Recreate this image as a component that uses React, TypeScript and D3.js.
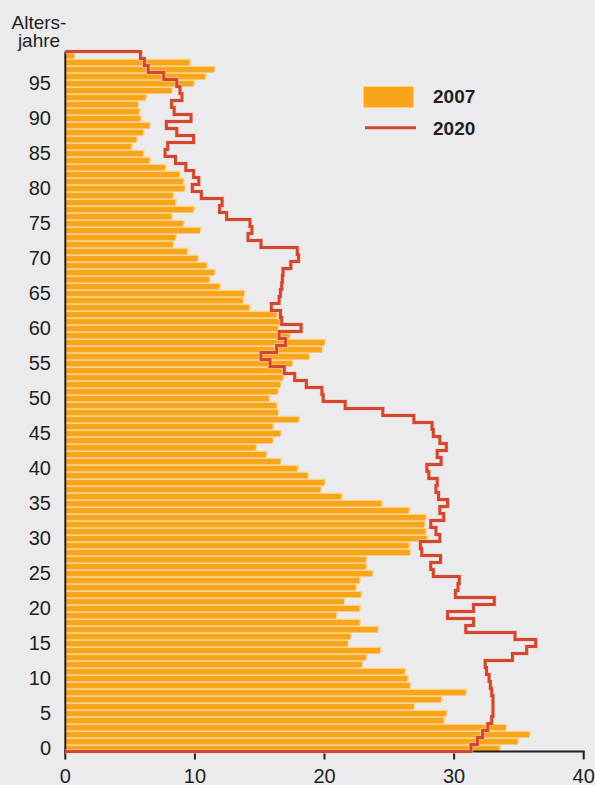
import React from 'react';
import * as d3 from 'd3';

// Altersjahre 0..99
const ages: number[] = d3.range(0, 100);

// 2007 – Balken (Anzahl je Altersjahr)
const values2007: number[] = [
  33.5, 34.9, 35.8, 34.0, 29.2, 29.4, 26.9, 29.0, 30.9, 26.6,
  26.4, 26.2, 22.9, 23.2, 24.3, 21.8, 22.0, 24.1, 22.7, 20.9,
  22.7, 21.5, 22.8, 22.4, 22.7, 23.7, 23.2, 23.2, 26.6, 26.5,
  27.9, 27.8, 27.7, 27.8, 26.5, 24.4, 21.3, 19.7, 20.0, 18.7,
  17.9, 16.6, 15.5, 14.7, 16.0, 16.6, 16.0, 18.0, 16.4, 16.3,
  15.7, 16.4, 16.6, 16.8, 16.9, 17.5, 18.8, 19.8, 20.0, 17.3,
  16.4, 16.6, 16.3, 14.2, 13.7, 13.8, 11.9, 11.1, 11.5, 10.9,
  10.2, 9.4, 8.3, 8.5, 10.4, 9.1, 8.2, 9.9, 8.5, 8.3,
  9.2, 9.1, 8.8, 7.7, 6.5, 6.0, 5.1, 5.5, 6.0, 6.5,
  5.8, 5.7, 5.6, 6.2, 8.2, 9.9, 10.8, 11.5, 9.6, 0.7,
];

// 2020 – Stufenlinie
const values2020: number[] = [
  31.3, 31.8, 32.2, 32.6, 32.9, 33.0, 33.0, 33.0, 32.9, 32.8,
  32.7, 32.5, 32.4, 34.5, 35.6, 36.3, 34.7, 30.9, 31.5, 29.5,
  31.5, 33.1, 30.1, 30.3, 30.4, 28.4, 28.2, 28.95, 27.5, 27.4,
  28.9, 28.6, 28.2, 29.2, 28.9, 29.5, 28.8, 28.6, 28.7, 28.05,
  27.9, 29.0, 28.7, 29.4, 28.9, 28.4, 28.3, 26.9, 24.5, 21.6,
  19.9, 19.8, 18.6, 17.7, 16.9, 15.8, 15.1, 16.3, 17.0, 16.5,
  18.2, 16.7, 16.6, 15.9, 16.5, 16.6, 16.7, 16.75, 16.8, 17.4,
  18.0, 17.9, 15.1, 14.1, 14.4, 14.25, 12.45, 11.9, 12.1, 10.5,
  9.8, 10.3, 9.9, 9.3, 8.5, 7.7, 7.9, 9.9, 8.6, 7.8,
  9.7, 8.4, 8.2, 9.0, 8.85, 8.6, 7.6, 6.4, 6.1, 5.8,
];

const xTicks: number[] = [0, 10, 20, 30, 40];
const yTickAges: number[] = ages.filter(a => a % 5 === 0);
const seriesLabels: string[] = ['2007', '2020'];

const W = 595;
const H = 785;
const BG = '#ebebed';
const ORANGE = '#f9a51b';
const PALE = '#fdd995';
const RED = '#d2472f';
const INK = '#231f20';
const FONT = '"Liberation Sans", Arial, Helvetica, sans-serif';

const App: React.FC = () => {
  const left = 65.3;
  const right = 583.7;
  const bottom = 751.5;
  const top = 51.5;

  const x = d3.scaleLinear().domain([0, 40]).range([left, right]);
  const y = d3.scaleBand<number>().domain(ages).range([bottom, top]).padding(0);
  const bw = y.bandwidth();

  // Stufenlinie als Umriss: von der Achse unten, um jedes Altersjahr, zurück zur Achse oben
  const pts: [number, number][] = [[0, bottom]];
  ages.forEach((a, i) => {
    const y0 = (y(a) as number) + bw;
    const y1 = y(a) as number;
    pts.push([values2020[i], y0]);
    pts.push([values2020[i], y1]);
  });
  pts.push([0, top]);
  const stepLine = d3.line<[number, number]>()
    .x(d => x(d[0]))
    .y(d => d[1]);
  const linePath = stepLine(pts) || '';

  const barH = 5.6;

  return (
    <div style={{ position: 'absolute', left: 0, top: 0 }}>
      <svg width={W} height={H} style={{ display: 'block', fontFamily: FONT }}>
        <rect x={0} y={0} width={W} height={H} fill={BG} />

        {/* Titel der Y-Achse */}
        <text x={39} y={28.8} textAnchor="middle" fontSize={19} fill={INK}>Alters-</text>
        <text x={39} y={47.2} textAnchor="middle" fontSize={19} fill={INK}>jahre</text>

        {/* Balken 2007 */}
        <g>
          {ages.map((a, i) => {
            const yb = (y(a) as number) + bw - barH;
            const w = x(values2007[i]) - x(0);
            return (
              <g key={a}>
                <rect x={x(0)} y={yb - 1.3} width={w + 1.6} height={barH} fill={PALE} />
                <rect x={x(0)} y={yb} width={w} height={barH} fill={ORANGE} />
              </g>
            );
          })}
        </g>

        {/* Achsen */}
        <line x1={left} x2={left} y1={top} y2={bottom} stroke={INK} strokeWidth={2} />
        <line x1={left - 1} x2={right + 1} y1={bottom} y2={bottom} stroke={INK} strokeWidth={2} />
        {xTicks.map(t => (
          <g key={t}>
            <line x1={x(t)} x2={x(t)} y1={bottom} y2={bottom + 8} stroke={INK} strokeWidth={2} />
            <text x={x(t)} y={782.5} textAnchor="middle" fontSize={20} fill={INK}>{t}</text>
          </g>
        ))}
        {yTickAges.map(a => (
          <text
            key={a}
            x={51}
            y={(y(a) as number) + bw / 2}
            dy="0.36em"
            textAnchor="end"
            fontSize={20}
            fill={INK}
          >
            {a}
          </text>
        ))}

        {/* Linie 2020 */}
        <path d={linePath} fill="none" stroke="#f3c9bd" strokeWidth={4.6} strokeLinejoin="miter" opacity={0.7} />
        <path d={linePath} fill="none" stroke={RED} strokeWidth={3} strokeLinejoin="miter" />

        {/* Legende */}
        <rect x={363} y={86} width={51} height={22} fill={ORANGE} stroke="#fff3dc" strokeWidth={1} />
        <text x={433} y={103} fontSize={19} fontWeight="bold" fill={INK}>{seriesLabels[0]}</text>
        <line x1={365} x2={416} y1={127.7} y2={127.7} stroke={RED} strokeWidth={3} />
        <text x={433} y={135} fontSize={19} fontWeight="bold" fill={INK}>{seriesLabels[1]}</text>
      </svg>
    </div>
  );
};

export default App;
